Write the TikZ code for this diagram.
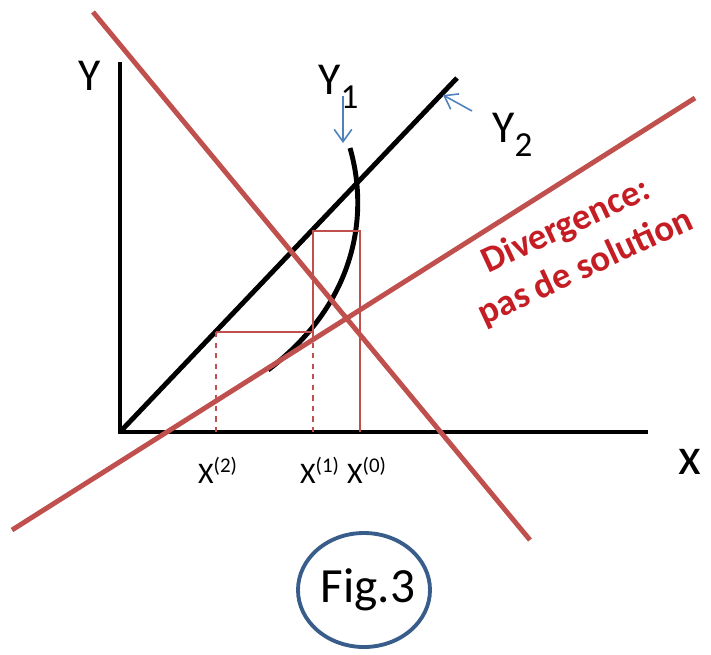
\documentclass[tikz,border=0pt]{standalone}
\usepackage{fontspec}
\setmainfont{Carlito}
\usepackage{tikz}
\usetikzlibrary{arrows.meta, calc}
\definecolor{curvered}{RGB}{192, 80, 77}
\definecolor{arrowblue}{RGB}{79, 129, 189}
\definecolor{figblue}{RGB}{56, 93, 138}
\definecolor{textred}{RGB}{196, 30, 36}
\newcommand{\fsz}[1]{\fontsize{#1}{#1}\selectfont}

\begin{document}
\begin{tikzpicture}[
  x=0.02cm, y=-0.02cm,
  axis/.style={line width=2.8pt, black},
  redline/.style={line width=2.8pt, curvered},
  thinred/.style={line width=0.9pt, curvered},
  pointer/.style={line width=0.9pt, arrowblue, -{Straight Barb[length=7pt, width=10pt]}},
  lbl/.style={inner sep=0pt, font=\fsz{26}},
  xlbl/.style={inner sep=0pt, font=\fsz{17}}
]
  \useasboundingbox (0,0) rectangle (711,654);

  % axes and the line Y2
  \coordinate (origin) at (120,432);
  \coordinate (ytop) at (120,62);
  \coordinate (xend) at (648,432);
  \coordinate (diagend) at (457,78);
  \draw[axis] (ytop) -- (origin) -- (xend);
  \draw[axis] (origin) -- (diagend);

  % curve Y1
  \coordinate (ctop) at (350,148);
  \coordinate (cbot) at (268,370);
  \draw[axis] (ctop) .. controls (368,210) and (360,300) .. (cbot);

  % iterations
  \coordinate (x0) at (360,432);
  \coordinate (x1) at (313,432);
  \coordinate (x2) at (216,432);
  \coordinate (p0) at (360,231);
  \coordinate (p1) at (313,231);
  \coordinate (q1) at (313,332);
  \coordinate (q2) at (216,332);
  \draw[thinred] (x0) -- (p0) -- (p1) -- (q1) -- (q2);
  \draw[thinred, dashed] (q1) -- (x1);
  \draw[thinred, dashed] (q2) -- (x2);

  % red crossing lines
  \coordinate (r1a) at (93,12);
  \coordinate (r1b) at (530,540);
  \coordinate (r2a) at (12,530);
  \coordinate (r2b) at (695,98);
  \draw[redline] (r1a) -- (r1b);
  \draw[redline] (r2a) -- (r2b);

  % labels
  \node[lbl] (ylab) at (90,76) {Y};
  \node[lbl, anchor=base west] (y1lab) at (318,94) {Y\raisebox{-8pt}{\fsz{20}1}};
  \node[lbl, anchor=base west] (y2lab) at (492,142) {Y\raisebox{-8pt}{\fsz{20}2}};
  \node[lbl, font=\fsz{30}] (xlab) at (690,462) {x};
  \node[xlbl] (lx2) at (218,470) {X\textsuperscript{(2)}};
  \node[xlbl] (lx1) at (320,470) {X\textsuperscript{(1)}};
  \node[xlbl] (lx0) at (367,470) {X\textsuperscript{(0)}};

  % pointers
  \coordinate (a1s) at (343,96);
  \coordinate (a1e) at (343,143);
  \coordinate (a2s) at (472,111);
  \coordinate (a2e) at (443,95);
  \draw[pointer] (a1s) -- (a1e);
  \draw[pointer] (a2s) -- (a2e);

  % comment
  \node[text=textred, font=\bfseries\fsz{21}, rotate=25, align=center, inner sep=0pt] (diverg) at (576,247)
    {Divergence:\\[5pt]pas de solution};

  % figure number
  \draw[figblue, line width=2.2pt] (364,590) ellipse [x radius=66, y radius=57];
  \node[inner sep=0pt, font=\fsz{28}] (fig) at (368,590) {Fig.3};
\end{tikzpicture}
\end{document}
